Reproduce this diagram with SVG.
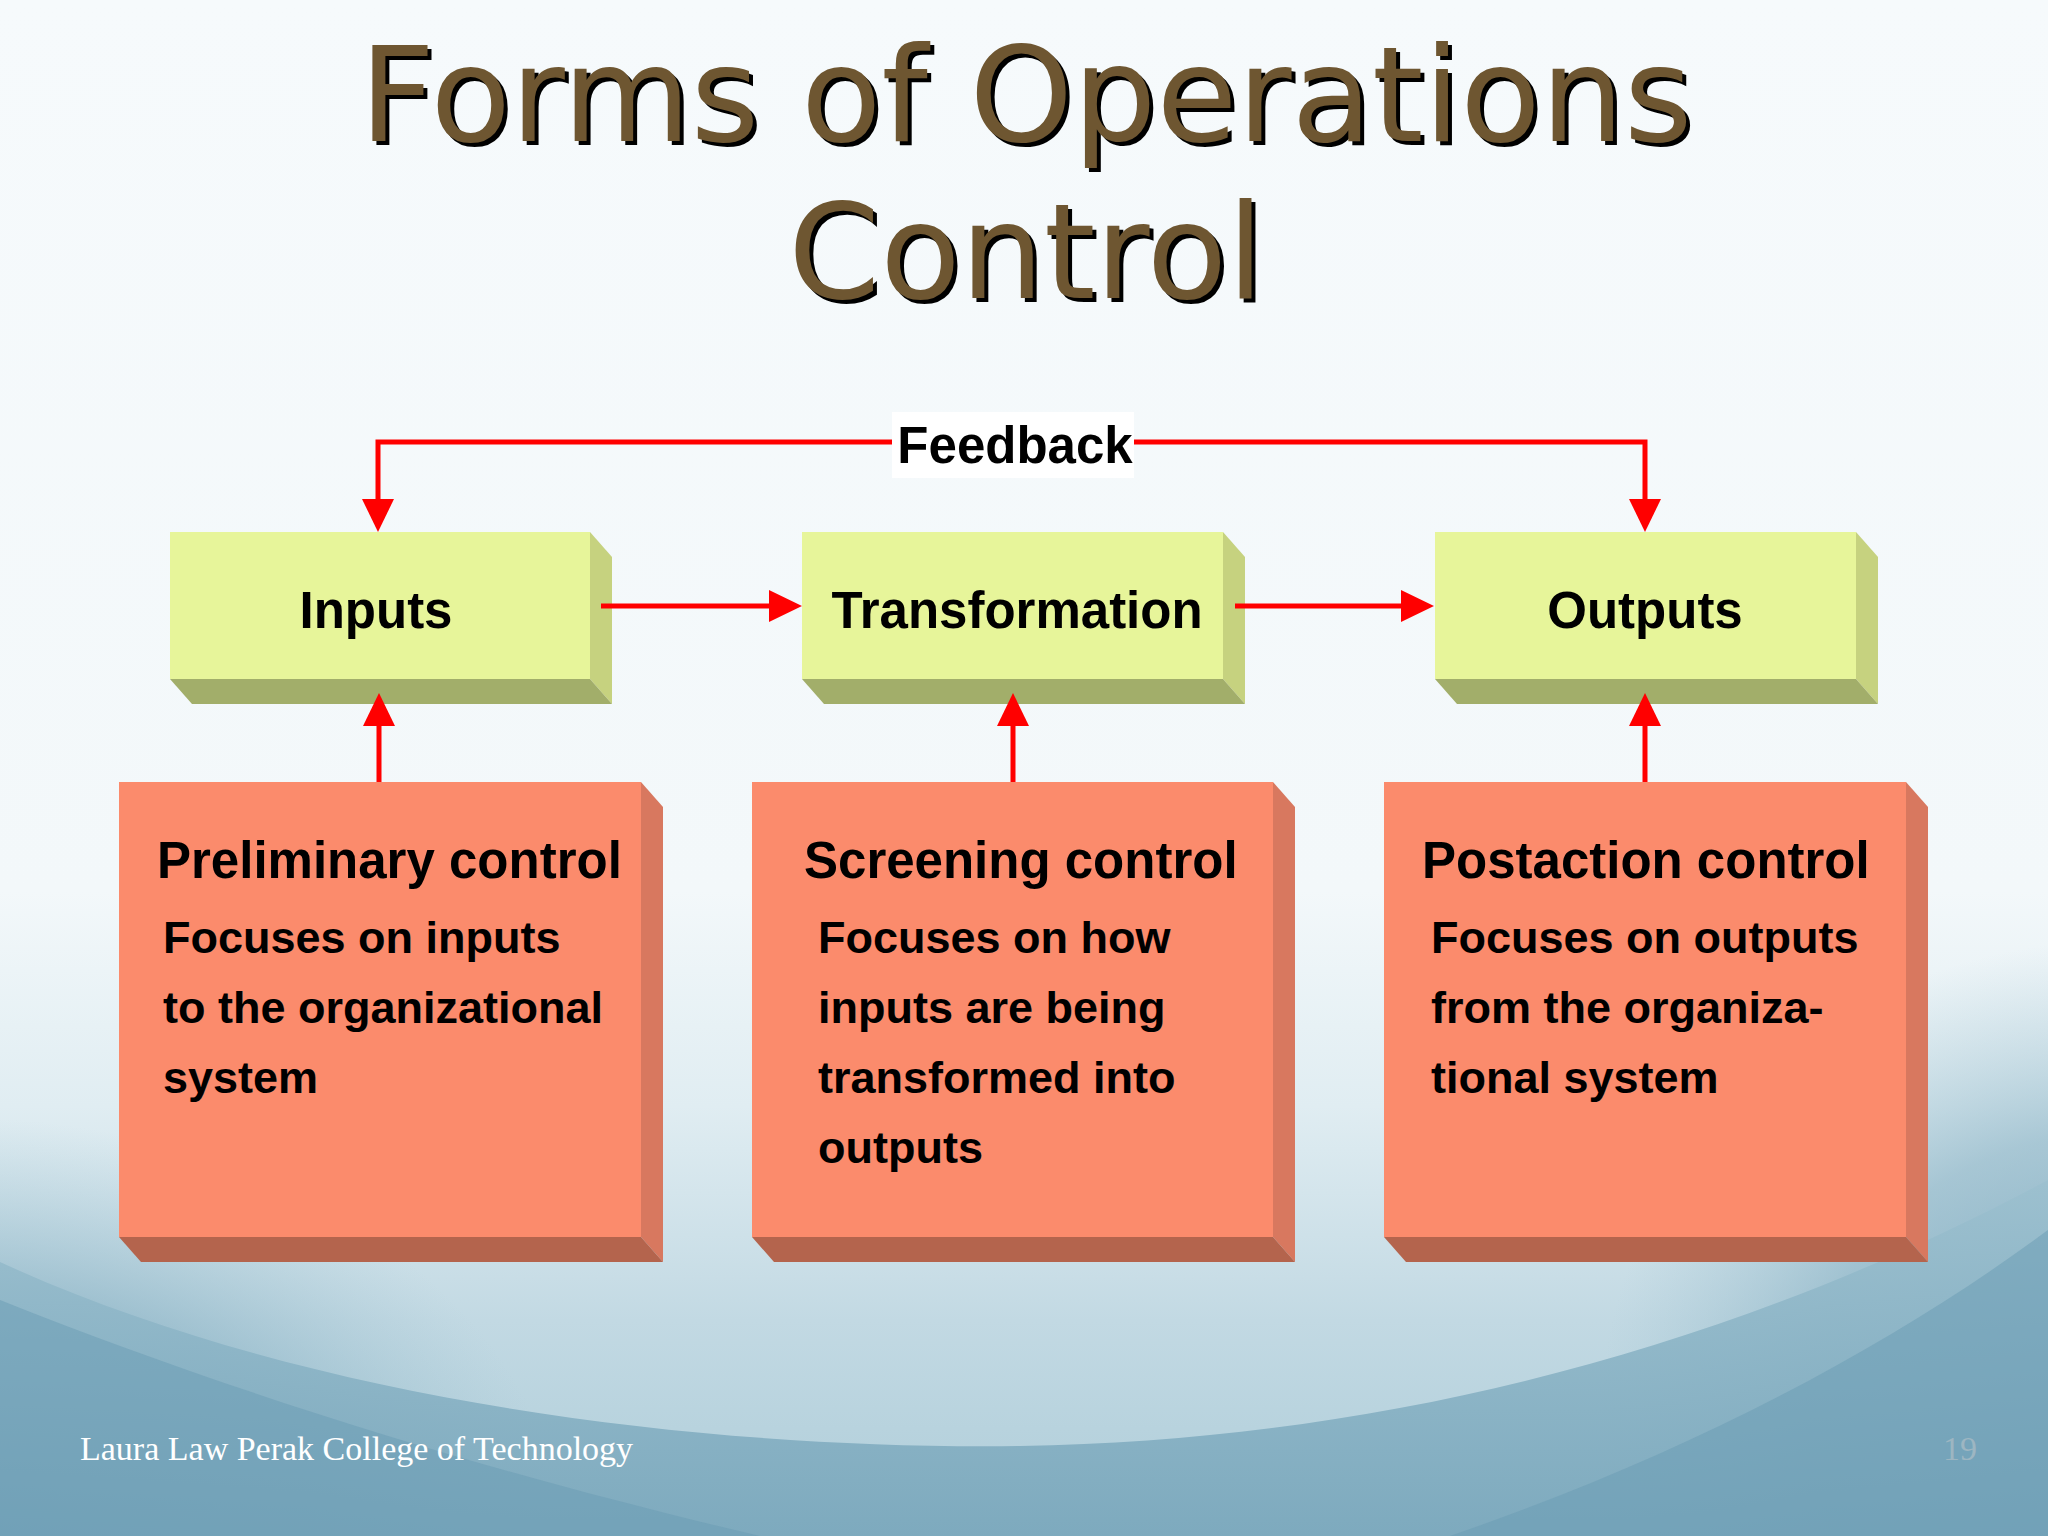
<svg xmlns="http://www.w3.org/2000/svg" width="2048" height="1536" viewBox="0 0 2048 1536">
<defs>
<linearGradient id="bg" x1="0" y1="0" x2="0" y2="1">
<stop offset="0" stop-color="#F6FAFC"/>
<stop offset="0.58" stop-color="#F3F8FA"/>
<stop offset="0.72" stop-color="#E0EDF2"/>
<stop offset="0.86" stop-color="#C2D9E3"/>
<stop offset="1" stop-color="#AECDD9"/>
</linearGradient>
<linearGradient id="bowl" x1="0" y1="0" x2="0" y2="1">
<stop offset="0" stop-color="#9CC0CF"/>
<stop offset="1" stop-color="#78A6BB"/>
</linearGradient>
<radialGradient id="corner">
<stop offset="0" stop-color="#6E9FB6" stop-opacity="0.85"/>
<stop offset="0.6" stop-color="#7FABBF" stop-opacity="0.55"/>
<stop offset="1" stop-color="#9CC0CF" stop-opacity="0"/>
</radialGradient>
<marker id="arr" viewBox="0 0 33 32" refX="1" refY="16" markerWidth="33" markerHeight="32" markerUnits="userSpaceOnUse" orient="auto">
<path d="M0,0 L33,16 L0,32 Z" fill="#FF0000"/>
</marker>
<style>
.title{font-family:"DejaVu Sans",Verdana,sans-serif;font-size:131.5px;text-anchor:middle}
.tfill{fill:#6E5631}
.tshadow{fill:#000000}
.gfront{fill:#E7F59A}
.gside{fill:#C6D27F}
.gbot{fill:#A2AE6A}
.ofront{fill:#FB8B6C}
.oside{fill:#D8785F}
.obot{fill:#B4644D}
.lbl{font-family:"Liberation Sans",Arial,sans-serif;font-weight:bold;font-size:51px;fill:#000;text-anchor:middle}
.head{font-family:"Liberation Sans",Arial,sans-serif;font-weight:bold;font-size:51px;fill:#000}
.body{font-family:"Liberation Sans",Arial,sans-serif;font-weight:bold;font-size:45px;fill:#000}
.conn{fill:none;stroke:#FF0000;stroke-width:5;marker-end:url(#arr)}
.foot{font-family:"Liberation Serif","Times New Roman",serif;font-size:34px}
</style>
</defs>

<g id="background">
<rect x="0" y="0" width="2048" height="1536" fill="url(#bg)"/>
<ellipse cx="-60" cy="1536" rx="620" ry="420" fill="url(#corner)"/>
<ellipse cx="2120" cy="1420" rx="520" ry="480" fill="url(#corner)"/>
<path d="M0,1262 C300,1400 700,1450 1020,1446 C1400,1440 1750,1340 2048,1180 L2048,1536 L0,1536 Z" fill="url(#bowl)" opacity="0.9"/>
<path d="M0,1300 C250,1400 520,1480 760,1536 L0,1536 Z" fill="#6A9BB3" opacity="0.5"/>
<path d="M2048,1230 C1900,1340 1700,1450 1450,1536 L2048,1536 Z" fill="#6A9BB3" opacity="0.5"/>
</g>

<g id="title">
<text class="title tshadow" x="1030" y="145">Forms of Operations</text>
<text class="title tfill" x="1026" y="141">Forms of Operations</text>
<text class="title tshadow" x="1030" y="302">Control</text>
<text class="title tfill" x="1026" y="298">Control</text>
</g>

<g id="inputs">
<polygon class="gside" points="590,532 612,557 612,704 590,679"/>
<polygon class="gbot" points="170,679 590,679 612,704 192,704"/>
<rect class="gfront" x="170" y="532" width="420" height="147"/>
<text class="lbl" x="376" y="628">Inputs</text>
</g>

<g id="transformation">
<polygon class="gside" points="1223,532 1245,557 1245,704 1223,679"/>
<polygon class="gbot" points="802,679 1223,679 1245,704 824,704"/>
<rect class="gfront" x="802" y="532" width="421" height="147"/>
<text class="lbl" x="1017" y="628">Transformation</text>
</g>

<g id="outputs">
<polygon class="gside" points="1856,532 1878,557 1878,704 1856,679"/>
<polygon class="gbot" points="1435,679 1856,679 1878,704 1457,704"/>
<rect class="gfront" x="1435" y="532" width="421" height="147"/>
<text class="lbl" x="1645" y="628">Outputs</text>
</g>

<g id="preliminary">
<polygon class="oside" points="641,782 663,807 663,1262 641,1237"/>
<polygon class="obot" points="119,1237 641,1237 663,1262 141,1262"/>
<rect class="ofront" x="119" y="782" width="522" height="455"/>
<text class="head" x="157" y="878">Preliminary control</text>
<text class="body" x="163" y="953">Focuses on inputs</text>
<text class="body" x="163" y="1023">to the organizational</text>
<text class="body" x="163" y="1093">system</text>
</g>

<g id="screening">
<polygon class="oside" points="1273,782 1295,807 1295,1262 1273,1237"/>
<polygon class="obot" points="752,1237 1273,1237 1295,1262 774,1262"/>
<rect class="ofront" x="752" y="782" width="521" height="455"/>
<text class="head" x="804" y="878">Screening control</text>
<text class="body" x="818" y="953">Focuses on how</text>
<text class="body" x="818" y="1023">inputs are being</text>
<text class="body" x="818" y="1093">transformed into</text>
<text class="body" x="818" y="1163">outputs</text>
</g>

<g id="postaction">
<polygon class="oside" points="1906,782 1928,807 1928,1262 1906,1237"/>
<polygon class="obot" points="1384,1237 1906,1237 1928,1262 1406,1262"/>
<rect class="ofront" x="1384" y="782" width="522" height="455"/>
<text class="head" x="1422" y="878">Postaction control</text>
<text class="body" x="1431" y="953">Focuses on outputs</text>
<text class="body" x="1431" y="1023">from the organiza-</text>
<text class="body" x="1431" y="1093">tional system</text>
</g>

<g id="connectors">
<path class="conn" d="M892,442 H378 V500"/>
<path class="conn" d="M1134,442 H1645 V500"/>
<path class="conn" d="M601,606 H770"/>
<path class="conn" d="M1235,606 H1402"/>
<path class="conn" d="M379,782 V725"/>
<path class="conn" d="M1013,782 V725"/>
<path class="conn" d="M1645,782 V725"/>
</g>

<g id="feedback-label">
<rect x="892" y="412" width="242" height="66" fill="#FFFFFF"/>
<text class="lbl" x="1015" y="463">Feedback</text>
</g>

<g id="footer">
<text class="foot" x="80" y="1460" fill="#FFFFFF">Laura Law Perak College of Technology</text>
<text class="foot" x="1943" y="1460" fill="#9DB6C2">19</text>
</g>
</svg>
